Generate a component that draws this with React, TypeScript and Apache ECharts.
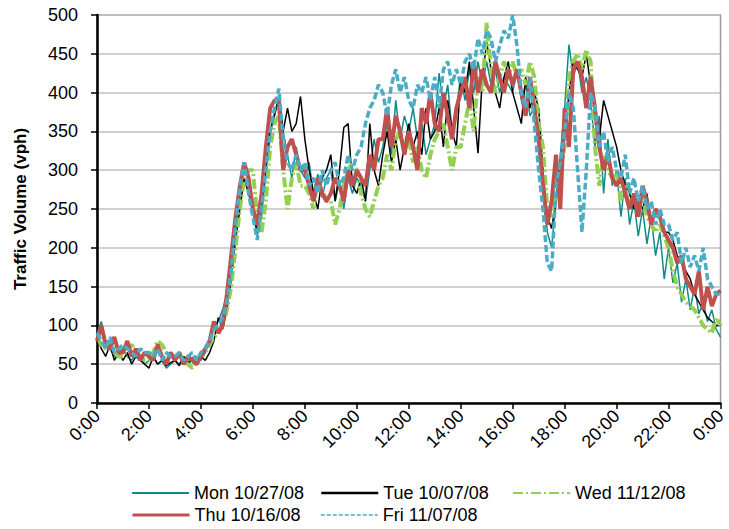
import React, { useEffect, useRef } from "react";
import * as echarts from "echarts";

const INTERVAL_MIN = 10;
const SERIES_NAMES = ["Mon 10/27/08", "Tue 10/07/08", "Wed 11/12/08", "Thu 10/16/08", "Fri 11/07/08"];
const Y_TICKS = [0, 50, 100, 150, 200, 250, 300, 350, 400, 450, 500];

// 10-minute samples, 0:00 .. 24:00 (6 per hour + final)
const mon = [
  90, 105, 80, 70, 60, 65,
  70, 60, 55, 65, 60, 50,
  55, 60, 50, 55, 45, 50,
  55, 50, 60, 50, 55, 60,
  55, 65, 80, 100, 105, 120,
  140, 175, 220, 265, 310, 290,
  250, 215, 240, 300, 350, 375,
  390, 350, 320, 290, 330, 300,
  290, 310, 270, 295, 265, 290,
  300, 260, 285, 250, 290, 270,
  290, 280, 260, 300, 340, 310,
  330, 360, 320, 390, 340, 370,
  350, 380, 340, 360, 320, 340,
  360, 425, 380, 410, 350, 380,
  420, 390, 430, 400, 440, 410,
  440, 410, 430, 400, 420, 410,
  400, 430, 390, 410, 370, 380,
  330, 290, 220, 200, 260, 320,
  380, 462, 420, 440, 400, 420,
  390, 330, 370, 270, 340, 280,
  300, 240, 290, 230, 260, 215,
  250, 205, 240, 190, 220, 160,
  200, 155, 180, 130, 160, 120,
  150, 115, 130, 105, 120, 95,
  85,
];
const tue = [
  85, 70, 60, 75, 55, 65,
  55, 65, 50, 60, 55, 50,
  45, 60, 50, 55, 48, 52,
  55, 48, 60, 52, 58, 50,
  60, 55, 65, 80, 110, 95,
  120, 160, 210, 250, 290, 270,
  250, 220, 260, 300, 350, 370,
  395, 350, 380, 350, 360, 395,
  340, 300, 270, 250, 290, 300,
  320, 260, 300, 355, 360, 280,
  270, 290, 260, 360, 300, 280,
  320, 350, 310, 340, 300, 330,
  360, 330, 350, 320, 380, 340,
  350, 380, 330, 390, 350, 330,
  420, 400, 440, 380, 322, 420,
  465, 430, 400, 380, 420, 440,
  400, 380, 360, 420, 380, 400,
  380, 300, 240, 225, 260, 300,
  340, 400, 440, 430, 420, 450,
  410, 380, 340, 390, 370, 350,
  330, 300, 280, 270, 250, 260,
  250, 270, 230, 250, 240, 220,
  220, 210, 190, 180, 170, 160,
  140, 130, 120, 110, 105, 100,
  100,
];
const wed = [
  85, 75, 70, 80, 65, 60,
  60, 70, 75, 65, 60, 55,
  55, 65, 80, 75, 65, 60,
  60, 55, 55, 50, 45, 55,
  60, 65, 75, 85, 90, 100,
  120, 150, 200, 250, 290, 300,
  300, 240, 220, 260, 330, 360,
  370, 300, 250, 290, 310, 280,
  280, 270, 250, 290, 275, 260,
  260, 230, 250, 280, 300, 310,
  300, 270, 250, 240, 260, 280,
  290, 320, 300, 340, 350, 330,
  340, 310, 330, 300, 290, 320,
  340, 350, 360, 330, 300, 330,
  330, 360, 390, 350, 420, 400,
  490, 430, 400, 420, 440, 420,
  440, 420, 430, 410, 440, 420,
  360, 330, 250, 240, 270, 300,
  330, 420, 440, 450, 430, 455,
  440, 330, 280, 320, 300, 290,
  300, 260, 280, 250, 270, 240,
  270, 240, 230, 220, 230, 215,
  200, 170, 150, 140, 130, 125,
  120, 110, 100, 95, 90, 110,
  100,
];
const thu = [
  80, 100, 75, 70, 85, 65,
  65, 80, 60, 70, 55, 65,
  60, 55, 75, 60, 50, 65,
  55, 65, 50, 60, 55, 50,
  60, 70, 80, 105, 90, 100,
  140, 190, 240, 280, 310, 290,
  250, 230, 270, 330, 380, 390,
  390, 300, 330, 340, 320, 300,
  300, 280, 260, 290, 270, 260,
  270, 290, 280, 260, 300, 280,
  300, 290, 280, 320, 300, 340,
  340, 380, 330, 370, 350, 320,
  350, 330, 300, 380, 360, 400,
  360, 350, 400, 370, 340, 380,
  400, 420, 380, 440, 400, 430,
  410, 400, 440, 420, 400, 430,
  410, 430, 400, 370, 420, 380,
  340, 280, 230, 260, 320, 250,
  380, 330, 430, 440, 420, 380,
  420, 380, 330, 300, 320, 290,
  280, 290, 270, 250, 270, 240,
  280, 260, 230, 250, 240, 220,
  210, 200, 180, 190, 160, 150,
  140, 170, 120, 150, 125, 140,
  145,
];
const fri = [
  90, 80, 70, 85, 65, 70,
  75, 70, 65, 60, 70, 65,
  65, 60, 70, 55, 65, 60,
  60, 65, 55, 60, 65, 55,
  65, 70, 80, 95, 100, 110,
  130, 170, 230, 280, 310, 270,
  240, 210, 250, 300, 350, 380,
  405, 340, 310, 300, 320, 300,
  310, 280, 290, 270, 300, 280,
  300, 310, 280, 290, 320, 300,
  320, 330, 360, 380, 390, 410,
  400, 370, 410, 430, 400, 420,
  390, 380, 410, 400, 420, 390,
  420, 380, 430, 440, 410, 430,
  410, 440, 450, 430, 470, 450,
  480, 470, 440, 460, 480, 470,
  500, 460, 400, 380, 420, 360,
  300, 250, 180, 170, 280, 310,
  350, 400, 380, 300, 220, 300,
  400, 380, 330, 350, 310, 330,
  300, 290, 320, 270, 290, 260,
  280, 250, 260, 230, 250, 230,
  230, 210, 220, 180, 200, 175,
  190, 170, 200, 160, 150, 140,
  140,
];

const VALUES = [mon, tue, wed, thu, fri];
const COLORS = ["#0f8a8a", "#000000", "#92d050", "#c0504d", "#4bacc6"];
const WIDTHS = [1.5, 1.5, 4, 4, 3.5];
const LEGEND_WIDTHS = [2, 2.5, 2, 3, 1.5];
const DASHES: any[] = ["solid", "solid", [10, 3, 2, 3], "solid", [7, 3]];
const LEGEND_DASHES: any[] = ["solid", "solid", [10, 3, 2, 3], "solid", [4, 2]];
const LEGEND_POS = [
  { left: 131, top: 484 },
  { left: 320, top: 484 },
  { left: 512, top: 484 },
  { left: 131, top: 506 },
  { left: 320, top: 506 },
];

const FONT = "'Liberation Sans', Arial, sans-serif";

export default function App() {
  const ref = useRef<HTMLDivElement>(null);
  useEffect(() => {
    if (!ref.current) return;
    const chart = echarts.init(ref.current, undefined, { renderer: "svg" });
    const series = SERIES_NAMES.map((name, k) => ({
      name,
      type: "line",
      symbol: "none",
      data: VALUES[k].map((v, i) => [i * INTERVAL_MIN, v]),
      lineStyle: { color: COLORS[k], width: WIDTHS[k], type: DASHES[k] },
      itemStyle: { color: COLORS[k] },
      z: 2 + k,
    }));
    const legends = SERIES_NAMES.map((name, k) => ({
      data: [name],
      left: LEGEND_POS[k].left,
      top: LEGEND_POS[k].top,
      itemWidth: 57,
      itemHeight: 14,
      itemGap: 7,
      padding: 0,
      itemStyle: { opacity: 0 },
      lineStyle: { width: LEGEND_WIDTHS[k], type: LEGEND_DASHES[k] },
      textStyle: { fontFamily: FONT, fontSize: 18, color: "#000" },
      selectedMode: false,
    }));
    chart.setOption({
      animation: false,
      backgroundColor: "#fff",
      textStyle: { fontFamily: FONT },
      grid: {
        left: 97,
        right: 3,
        top: 15,
        bottom: 126,
        show: true,
        borderColor: "#999",
        borderWidth: 1.5,
      },
      legend: legends,
      xAxis: {
        type: "value",
        min: 0,
        max: 1440,
        interval: 120,
        axisLine: { lineStyle: { color: "#000", width: 2.5 } },
        axisTick: { show: true, length: 6, lineStyle: { color: "#000", width: 1.5 } },
        splitLine: { show: false },
        axisLabel: {
          rotate: 45,
          margin: 10,
          fontSize: 18,
          color: "#000",
          fontFamily: FONT,
          formatter: (v: number) => `${Math.floor(v / 60) % 24}:00`,
        },
      },
      yAxis: {
        type: "value",
        min: Y_TICKS[0],
        max: Y_TICKS[Y_TICKS.length - 1],
        interval: Y_TICKS[1] - Y_TICKS[0],
        name: "Traffic Volume (vph)",
        nameLocation: "middle",
        nameGap: 68,
        nameTextStyle: { fontSize: 17, fontWeight: "bold", color: "#000", fontFamily: FONT },
        axisLine: { show: true, lineStyle: { color: "#000", width: 2.5 } },
        axisTick: { show: true, length: 6, lineStyle: { color: "#000", width: 1.5 } },
        splitLine: { lineStyle: { color: "#c0c0c0", width: 1.5 } },
        axisLabel: { margin: 19, fontSize: 18, color: "#000", fontFamily: FONT },
      },
      series,
    });
    return () => chart.dispose();
  }, []);
  return (
    <div
      ref={ref}
      style={{ position: "fixed", left: 0, top: 0, width: 729, height: 529 }}
    />
  );
}
